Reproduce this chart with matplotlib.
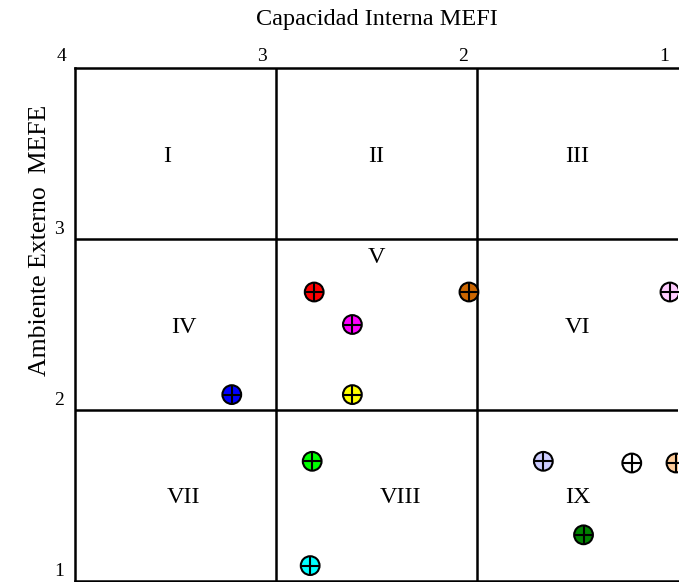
import matplotlib
matplotlib.use("Agg")
import matplotlib.pyplot as plt

# ---- data ----
x_ticks = [4, 3, 2, 1]
y_ticks = [1, 2, 3]  # the "4" at the corner is shared with the top axis
cell_labels = ["I", "II", "III", "IV", "V", "VI", "VII", "VIII", "IX"]
cell_x = [3.54, 2.5, 1.5, 3.46, 2.5, 1.5, 3.46, 2.38, 1.5]
cell_y = [3.48, 3.48, 3.48, 2.48, 2.89, 2.48, 1.49, 1.49, 1.49]

pt_x = [2.81, 2.04, 2.62, 2.62, 3.22, 2.82, 2.83, 1.04, 1.67, 1.23, 1.01, 1.47]
pt_y = [2.69, 2.69, 2.50, 2.09, 2.09, 1.70, 1.09, 2.69, 1.70, 1.69, 1.69, 1.27]
pt_colors = ["#FF0000", "#CC6600", "#FF00FF", "#FFFF00", "#0000FF", "#00FF00",
             "#00FFFF", "#FFCCFF", "#CCCCFF", "#FFFFFF", "#FFCC99", "#008000"]

title = "Capacidad Interna MEFI"
ylabel = "Ambiente Externo  MEFE"

W, H = 679, 582
fig = plt.figure(figsize=(W / 100, H / 100), dpi=100)
ax = fig.add_axes([75 / W, 1 - 581 / H, (678 - 75) / W, (581 - 68) / H])
ax.set_xlim(4, 1)
ax.set_ylim(1, 4)
ax.set_xticks([])
ax.set_yticks([])
for s in ["left", "top", "bottom"]:
    ax.spines[s].set_linewidth(1.8)
ax.spines["right"].set_visible(False)

for v in [3, 2]:
    ax.axvline(v, color="black", lw=1.8)
    ax.axhline(v, color="black", lw=1.8)

serif = "Liberation Serif"

for lab, cx, cy in zip(cell_labels, cell_x, cell_y):
    ax.text(cx, cy, lab, ha="center", va="center", fontsize=17.5, family=serif)

ax.scatter(pt_x, pt_y, s=13.5 ** 2, c=pt_colors, edgecolors="black",
           linewidths=1.5, zorder=3)
ax.scatter(pt_x, pt_y, s=13.5 ** 2, marker="+", c="black", linewidths=1.5,
           zorder=4)

for t in x_ticks:
    ax.annotate(str(t), xy=(t, 1), xycoords=("data", "axes fraction"),
                xytext=(-10, 5), textcoords="offset points",
                ha="center", va="baseline", fontsize=14, family=serif)
for t in y_ticks:
    ax.annotate(str(t), xy=(0, t), xycoords=("axes fraction", "data"),
                xytext=(-11.5, 3.5), textcoords="offset points",
                ha="center", va="baseline", fontsize=14, family=serif)

fig.text(377 / W, 1 - 20 / H, title, ha="center", va="center",
         fontsize=17.5, family=serif)
fig.text(40 / W, 1 - 240 / H, ylabel, ha="center", va="center",
         rotation=90, fontsize=18.5, family=serif)

fig.savefig("out.png", dpi=100)
